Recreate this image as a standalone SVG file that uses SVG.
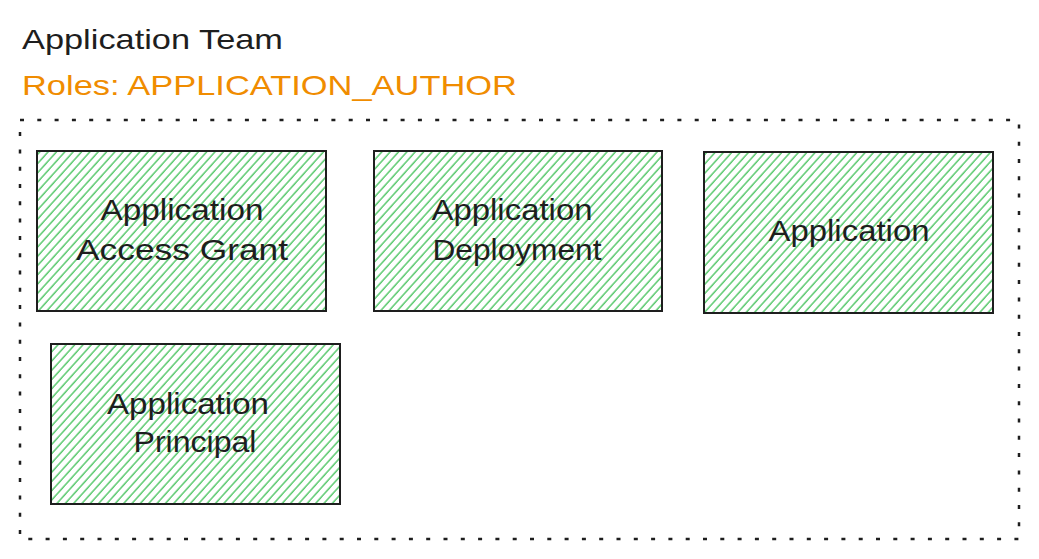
<svg xmlns="http://www.w3.org/2000/svg" width="1039" height="559" viewBox="0 0 1039 559">
  <defs>
    <pattern id="hatch" patternUnits="userSpaceOnUse" width="6.2" height="10" patternTransform="rotate(42)">
      <line x1="1" y1="0" x2="1" y2="10" stroke="#40c057" stroke-width="1.3"/>
    </pattern>
  </defs>
  <style>
    .box { fill: url(#hatch); stroke: #1e1e1e; stroke-width: 2; }
    .lbl { font-family: "Liberation Sans", Arial, sans-serif; font-size: 30px; fill: #1e1e1e; text-anchor: middle; }
    .title { font-family: "Liberation Sans", Arial, sans-serif; font-size: 28px; fill: #1e1e1e; }
    .roles { font-family: "Liberation Sans", Arial, sans-serif; font-size: 28px; fill: #f08c00; }
    .frame { fill: none; stroke: #1e1e1e; stroke-width: 2.5; stroke-dasharray: 4 13.3; }
  </style>
  <rect width="1039" height="559" fill="#ffffff"/>

  <g id="header">
    <text class="title" x="22" y="49" textLength="261" lengthAdjust="spacingAndGlyphs">Application Team</text>
    <text class="roles" x="22" y="95" textLength="495" lengthAdjust="spacingAndGlyphs">Roles: APPLICATION_AUTHOR</text>
  </g>

  <g id="team-frame">
    <rect class="frame" x="20" y="120" width="999" height="419"/>
  </g>

  <g id="node-access-grant">
    <rect class="box" x="37" y="151" width="289" height="160"/>
    <text class="lbl" x="182" y="220" textLength="163" lengthAdjust="spacingAndGlyphs">Application</text>
    <text class="lbl" x="182" y="260" textLength="212" lengthAdjust="spacingAndGlyphs">Access Grant</text>
  </g>

  <g id="node-deployment">
    <rect class="box" x="374" y="151" width="288" height="160"/>
    <text class="lbl" x="512" y="220" textLength="161" lengthAdjust="spacingAndGlyphs">Application</text>
    <text class="lbl" x="517" y="260" textLength="169" lengthAdjust="spacingAndGlyphs">Deployment</text>
  </g>

  <g id="node-application">
    <rect class="box" x="704" y="152" width="289" height="161"/>
    <text class="lbl" x="849" y="241" textLength="161" lengthAdjust="spacingAndGlyphs">Application</text>
  </g>

  <g id="node-principal">
    <rect class="box" x="51" y="344" width="289" height="160"/>
    <text class="lbl" x="188" y="414" textLength="162" lengthAdjust="spacingAndGlyphs">Application</text>
    <text class="lbl" x="195" y="452" textLength="123" lengthAdjust="spacingAndGlyphs">Principal</text>
  </g>

  <g id="connectors"/>
</svg>
